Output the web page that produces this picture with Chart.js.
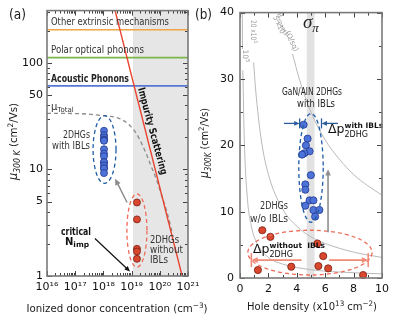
<!DOCTYPE html>
<html lang="en">
<head>
<meta charset="UTF-8" />
<title>Hole mobility vs donor concentration and hole density</title>
<script src="https://cdn.jsdelivr.net/npm/chart.js"></script>
<style>
  body { margin: 0; background: #fff; width: 394px; height: 318px; position: relative; overflow: hidden; }
  canvas { position: absolute; top: 0; }
  #panelA { left: 0; }
  #panelB { left: 193px; }
</style>
</head>
<body>
<canvas id="panelA" width="215" height="318"></canvas>
<canvas id="panelB" width="201" height="318"></canvas>
<script>
// ---------- panel (a): mobility vs ionized donor concentration ----------
const aXTicks = [1e16, 1e17, 1e18, 1e19, 1e20, 1e21];
const aYTicks = [1, 5, 10, 50, 100];
const mechLevels = [205, 112, 61];          // other extrinsic, polar optical, acoustic
const mechColors = ['#f2a444', '#7db54a', '#5677d3'];
const impurityN = [2.6e18, 6.2e20];
const impurityMu = [310, 1];
const totalN = [1e16, 1e17, 7.6e17, 3.9e18, 8.7e18, 1.5e19, 2.3e19, 3.5e19, 5.1e19, 7.8e19, 1.17e20, 1.74e20, 2.3e20, 2.7e20];
const totalMu = [33.6, 33.5, 32.2, 29.9, 25.9, 21.6, 17.4, 13.5, 10.5, 7.9, 5.7, 4.1, 3.1, 2.6];
const donorWithIBL = 1.05e18;
const donorWithoutIBL = 1.55e19;
const muWithoutA = [4.9, 3.4, 1.8, 1.7, 1.45];
const aBand = [1.12e19, 1e21];

// ---------- panel (b): mobility vs hole density ----------
const bXTicks = [0, 2, 4, 6, 8, 10];
const bYTicks = [0, 10, 20, 30, 40];
const holeWith = [4.48, 4.76, 4.64, 4.90, 4.53, 4.37, 4.99, 4.60, 4.60, 4.90, 5.17, 4.60, 5.17, 5.59, 5.29];
const muWith = [23.1, 21.0, 20.0, 19.1, 18.8, 18.6, 15.5, 14.1, 13.3, 11.7, 11.7, 10.9, 10.25, 10.25, 9.25];
const holeWithout = [1.57, 2.14, 5.45, 5.86, 1.26, 3.61, 5.52, 6.21, 8.67];
const muWithout = [7.2, 6.2, 5.2, 3.3, 1.2, 1.7, 1.8, 1.45, 0.45];
// iso sheet-resistance lines (null = gap under the label)
const iso1e5P = [0.16, 0.18, 0.19, 0.2, 0.3, 0.5, 0.8, 1.2, 2, 3, 5, 7, 10];
const iso1e5Mu = [40, 34.5, null, 31.3, 21, 12.5, 7.8, 5.2, 3.1, 2.1, 1.25, 0.9, 0.62];
const iso2e4P = [0.96, 1.1, 1.5, 2, 3, 4, 5, 6, 8, 10];
const iso2e4Mu = [32.5, 28.4, 20.8, 15.6, 10.4, 7.8, 6.2, 5.2, 3.9, 3.1];
const iso5e3P = [3.7, 4.2, 5, 6, 7, 8, 9, 10];
const iso5e3Mu = [33.8, 29.8, 25, 20.8, 17.9, 15.6, 13.9, 12.5];
const bBand = [4.7, 5.25];

const FONT = '"DejaVu Sans", sans-serif';
const f = (size, weight = 'normal', style = 'normal', fam = FONT) => `${style} ${weight} ${size}px ${fam}`;
const BLUE = '#4d72d8', BLUE_EDGE = '#22388f', RED = '#d9472f', RED_EDGE = '#7a1e10';

function sup(n) {
  const m = { '0': '⁰', '1': '¹', '2': '²', '3': '³', '4': '⁴', '5': '⁵', '6': '⁶', '7': '⁷', '8': '⁸', '9': '⁹', '-': '⁻' };
  return String(n).split('').map(c => m[c]).join('');
}

// draw a run of text pieces (for sub/superscripts), optionally rotated and squeezed to a width
function runs(ctx, parts, x, y, o = {}) {
  ctx.save();
  ctx.translate(x, y);
  if (o.rot) ctx.rotate(o.rot * Math.PI / 180);
  ctx.textBaseline = 'alphabetic';
  ctx.textAlign = 'left';
  let w = 0;
  for (const p of parts) { ctx.font = p.font; if (!p.stay) w += ctx.measureText(p.t).width; }
  if (o.width) ctx.scale(o.width / w, 1);
  let cx = o.align === 'center' ? -w / 2 : o.align === 'right' ? -w : 0;
  for (const p of parts) {
    ctx.font = p.font;
    ctx.fillStyle = p.color || o.color || '#1a1a1a';
    ctx.fillText(p.t, cx, (p.dy || 0) + (o.vshift || 0));
    if (!p.stay) cx += ctx.measureText(p.t).width;
  }
  ctx.restore();
}
const T = (t, font, dy = 0, extra = {}) => Object.assign({ t, font, dy }, extra);

function ellipse(chart, xr, yr, color) {
  const { ctx, scales: { x, y } } = chart;
  const x0 = x.getPixelForValue(xr[0]), x1 = x.getPixelForValue(xr[1]);
  const y0 = y.getPixelForValue(yr[0]), y1 = y.getPixelForValue(yr[1]);
  ctx.save();
  ctx.strokeStyle = color; ctx.lineWidth = 1.3; ctx.setLineDash([4, 3]);
  ctx.beginPath();
  ctx.ellipse((x0 + x1) / 2, (y0 + y1) / 2, Math.abs(x1 - x0) / 2, Math.abs(y1 - y0) / 2, 0, 0, Math.PI * 2);
  ctx.stroke();
  ctx.restore();
}

function arrow(chart, from, to, color, lw = 1.3, head = 6, bar = 0) {
  const { ctx, scales: { x, y } } = chart;
  const x0 = x.getPixelForValue(from[0]), y0 = y.getPixelForValue(from[1]);
  const x1 = x.getPixelForValue(to[0]), y1 = y.getPixelForValue(to[1]);
  const ang = Math.atan2(y1 - y0, x1 - x0);
  ctx.save();
  ctx.strokeStyle = ctx.fillStyle = color; ctx.lineWidth = lw;
  ctx.beginPath();
  ctx.moveTo(x0, y0);
  ctx.lineTo(x1 - Math.cos(ang) * head * 0.8, y1 - Math.sin(ang) * head * 0.8);
  ctx.stroke();
  ctx.beginPath();
  ctx.moveTo(x1, y1);
  ctx.lineTo(x1 - head * Math.cos(ang - 0.42), y1 - head * Math.sin(ang - 0.42));
  ctx.lineTo(x1 - head * Math.cos(ang + 0.42), y1 - head * Math.sin(ang + 0.42));
  ctx.closePath(); ctx.fill();
  if (bar) {
    ctx.beginPath();
    ctx.moveTo(x1 + Math.sin(ang) * bar, y1 - Math.cos(ang) * bar);
    ctx.lineTo(x1 - Math.sin(ang) * bar, y1 + Math.cos(ang) * bar);
    ctx.stroke();
  }
  ctx.restore();
}

// inward ticks plus the grey frame
function frame(chart, xt, yt) {
  const { ctx, chartArea: a, scales: { x, y } } = chart;
  ctx.save();
  ctx.strokeStyle = '#444'; ctx.lineWidth = 1;
  ctx.beginPath();
  for (const [v, maj] of xt) {
    const px = Math.round(x.getPixelForValue(v)) + 0.5, l = maj ? 5 : 3;
    ctx.moveTo(px, a.bottom); ctx.lineTo(px, a.bottom - l);
    ctx.moveTo(px, a.top); ctx.lineTo(px, a.top + l);
  }
  for (const [v, maj] of yt) {
    const py = Math.round(y.getPixelForValue(v)) + 0.5, l = maj ? 5 : 3;
    ctx.moveTo(a.left, py); ctx.lineTo(a.left + l, py);
    ctx.moveTo(a.right, py); ctx.lineTo(a.right - l, py);
  }
  ctx.stroke();
  ctx.strokeStyle = '#7a7a7a'; ctx.lineWidth = 1.6;
  ctx.strokeRect(a.left, a.top, a.right - a.left, a.bottom - a.top);
  ctx.restore();
}

function logTicks(lo, hi, labelled) {
  const out = [];
  for (let e = Math.floor(Math.log10(lo)); e <= Math.ceil(Math.log10(hi)); e++)
    for (let k = 1; k <= 9; k++) {
      const v = k * Math.pow(10, e);
      if (v >= lo * 0.999 && v <= hi * 1.001) out.push([v, k === 1 || labelled.includes(v)]);
    }
  return out;
}
function linTicks(lo, hi, step, major) {
  const out = [];
  for (let v = lo; v <= hi + 1e-9; v += step) out.push([v, Math.abs(v / major - Math.round(v / major)) < 1e-6]);
  return out;
}

const baseOptions = (xScale, yScale, pad) => ({
  responsive: false, animation: false, devicePixelRatio: 1, events: [],
  layout: { padding: pad },
  plugins: { legend: { display: false }, tooltip: { enabled: false } },
  scales: { x: xScale, y: yScale }
});
const tickFont = { family: FONT, size: 11 };

// ---------------- chart (a) ----------------
const overlayA = {
  id: 'overlayA',
  beforeDatasetsDraw(chart) {
    const { ctx, chartArea: a, scales: { x } } = chart;
    const x0 = x.getPixelForValue(aBand[0]), x1 = x.getPixelForValue(aBand[1]);
    ctx.save(); ctx.fillStyle = '#e6e6e6';
    ctx.fillRect(x0, a.top, x1 - x0, a.bottom - a.top);
    ctx.restore();
  },
  afterDatasetsDraw(chart) {
    const ctx = chart.ctx;
    ellipse(chart, [4.3e17, 2.8e18], [32, 7.4], '#1f5ca6');
    ellipse(chart, [6.8e18, 3.5e19], [5.9, 1.21], '#ef6a58');
    arrow(chart, [6.9e18, 4.9], [2.6e18, 8.2], '#8a8a8a', 1.4, 7);
    arrow(chart, [5e17, 2.25], [8.8e18, 1.1], '#111', 1.2, 6);

    runs(ctx, [T('(a)', f(13.5))], 9, 18.5, { width: 17 });
    runs(ctx, [T('Other extrinsic mechanisms', f(10.5))], 51, 24.5, { width: 118, color: '#333' });
    runs(ctx, [T('Polar optical phonons', f(10.5))], 51, 53, { width: 93, color: '#333' });
    runs(ctx, [T('Acoustic Phonons', f(10, 'bold'))], 51, 81.5, { width: 78, color: '#222' });
    runs(ctx, [T('μ', f(10)), T('Total', f(7), 2)], 51, 110, { color: '#333' });
    runs(ctx, [T('2DHGs', f(10))], 90, 138, { align: 'right', width: 27, color: '#333' });
    runs(ctx, [T('with IBLs', f(10))], 90, 149, { align: 'right', width: 38, color: '#333' });
    runs(ctx, [T('Impurity Scattering', f(10, 'bold'))], 153, 131, { align: 'center', rot: 75, width: 90, vshift: 3.6, color: '#111' });
    runs(ctx, [T('critical', f(10, 'bold'))], 76, 235, { align: 'center', width: 30, color: '#111' });
    runs(ctx, [T('N', f(10, 'bold')), T('imp', f(7.5, 'bold'), 2)], 77, 245, { align: 'center', color: '#111' });
    runs(ctx, [T('2DHGs', f(10))], 150, 242.5, { width: 29, color: '#333' });
    runs(ctx, [T('without', f(10))], 150, 253, { width: 33, color: '#333' });
    runs(ctx, [T('IBLs', f(10))], 150, 263, { width: 18, color: '#333' });

    runs(ctx, [T('μ', f(11.5, 'normal', 'italic')), T('300 K', f(8, 'normal', 'italic'), 3),
               T(' (cm', f(10.5)), T('2', f(7.5), -4), T('/Vs)', f(10.5))],
         16.5, 141.5, { align: 'center', rot: -90, width: 77 });
    runs(ctx, [T('Ionized donor concentration (cm', f(10.5)), T('−3', f(7.5), -4), T(')', f(10.5))],
         117, 311.5, { align: 'center', width: 181 });

    frame(chart, logTicks(1e16, 1e21, []), logTicks(1, 310, [5, 50]));
  }
};

new Chart(document.getElementById('panelA'), {
  type: 'scatter',
  data: {
    datasets: [
      { data: muWithoutA.map(v => ({ x: donorWithoutIBL, y: v })), pointRadius: 3.5, backgroundColor: RED, borderColor: RED_EDGE, borderWidth: 0.8, clip: false },
      { data: muWith.map(v => ({ x: donorWithIBL, y: v })), pointRadius: 3.5, backgroundColor: BLUE, borderColor: BLUE_EDGE, borderWidth: 0.8, clip: false },
      { data: impurityN.map((n, i) => ({ x: n, y: impurityMu[i] })), showLine: true, borderColor: '#e8432e', borderWidth: 1.4, pointRadius: 0 },
      { data: totalN.map((n, i) => ({ x: n, y: totalMu[i] })), showLine: true, borderColor: '#8c8c8c', borderDash: [4, 3], borderWidth: 1.3, pointRadius: 0, cubicInterpolationMode: 'monotone' },
      ...mechLevels.map((lv, i) => ({
        data: [{ x: aXTicks[0], y: lv }, { x: aXTicks[aXTicks.length - 1], y: lv }],
        showLine: true, borderColor: mechColors[i], borderWidth: 1.7, pointRadius: 0
      }))
    ]
  },
  options: baseOptions(
    {
      type: 'logarithmic', min: aXTicks[0], max: aXTicks[aXTicks.length - 1],
      afterFit: s => { s.height = 42; },
      afterBuildTicks: s => { s.ticks = aXTicks.map(v => ({ value: v })); },
      grid: { display: false, drawTicks: false }, border: { display: false },
      ticks: { autoSkip: false, maxRotation: 0, padding: 5, color: '#111', font: tickFont,
               callback: v => '10' + sup(Math.round(Math.log10(v))) }
    },
    {
      type: 'logarithmic', min: 1, max: 310,
      afterFit: s => { s.width = 47; },
      afterBuildTicks: s => { s.ticks = aYTicks.map(v => ({ value: v })); },
      grid: { display: false, drawTicks: false }, border: { display: false },
      ticks: { autoSkip: false, padding: 4, color: '#111', font: tickFont, callback: v => String(v) }
    },
    { left: 0, right: 27, top: 10, bottom: 0 }
  ),
  plugins: [overlayA]
});

// ---------------- chart (b) ----------------
const overlayB = {
  id: 'overlayB',
  beforeDatasetsDraw(chart) {
    const { ctx, chartArea: a, scales: { x } } = chart;
    const x0 = x.getPixelForValue(bBand[0]), x1 = x.getPixelForValue(bBand[1]);
    ctx.save(); ctx.fillStyle = '#e2e2e2';
    ctx.fillRect(x0, a.top, x1 - x0, a.bottom - a.top);
    ctx.restore();
  },
  afterDatasetsDraw(chart) {
    const ctx = chart.ctx;
    ellipse(chart, [4.14, 5.86], [24.8, 8.4], '#1f5ca6');
    ellipse(chart, [0.55, 9.3], [7.2, 0.45], '#ef6a58');
    arrow(chart, [6.2, 6.9], [6.2, 16.4], '#8f8f8f', 1.6, 7);
    arrow(chart, [3.1, 23.3], [4.2, 23.3], '#2b5c9c', 1.3, 6, 5);
    arrow(chart, [6.9, 23.3], [5.74, 23.3], '#2b5c9c', 1.3, 6, 5);
    arrow(chart, [4.34, 2.7], [0.8, 2.7], '#f28a78', 1.6, 7, 7);
    arrow(chart, [6.28, 2.7], [9.03, 2.7], '#f28a78', 1.6, 7, 7);

    runs(ctx, [T('(b)', f(13.5))], 2, 18.5, { width: 17 });
    runs(ctx, [T('σ', f(19, 'normal', 'italic', '"Liberation Serif", serif')),
               T('π', f(13, 'normal', 'italic', '"Liberation Serif", serif'), 4)], 110, 28, { color: '#222' });
    runs(ctx, [T('GaN/AlN 2DHGs', f(10))], 119, 95, { align: 'center', width: 60, color: '#222' });
    runs(ctx, [T('with IBLs', f(10))], 123, 107, { align: 'center', width: 38, color: '#222' });
    runs(ctx, [T('2DHGs', f(10))], 95, 209, { align: 'right', width: 28, color: '#333' });
    runs(ctx, [T('w/o IBLs', f(10))], 95, 221.5, { align: 'right', width: 38, color: '#333' });
    runs(ctx, [T('Δp', f(12.5)), T('with IBLs', f(7.5, 'bold'), -5, { stay: true }), T('2DHG', f(8), 4)], 135, 133, { color: '#111' });
    runs(ctx, [T('Δp', f(12.5)), T('without  IBLs', f(7.5, 'bold'), -5, { stay: true }), T('2DHG', f(8), 4)], 60, 253, { color: '#111' });

    const iso = '#9a9a9a';
    runs(ctx, [T('10', f(7.5)), T('5', f(5.5), -3)], 52.5, 56, { align: 'center', rot: 90, vshift: 2.7, color: iso });
    runs(ctx, [T('20 x10', f(7.5)), T('3', f(5.5), -3)], 60.5, 31.5, { align: 'center', rot: 90, vshift: 2.7, width: 23, color: iso });
    runs(ctx, [T('R', f(7.5)), T('sheet', f(5.5), 2), T('(Ω/sq)', f(7.5))], 95, 32, { align: 'center', rot: 65, vshift: 2.7, width: 42, color: iso });
    runs(ctx, [T('5 x10', f(7.5)), T('3', f(5.5), -3)], 87, 26, { align: 'center', rot: 65, vshift: 2.7, width: 22, color: iso });

    runs(ctx, [T('μ', f(11.5, 'normal', 'italic')), T('300K', f(8, 'normal', 'italic'), 3),
               T(' (cm', f(10.5)), T('2', f(7.5), -4), T('/Vs)', f(10.5))],
         14.5, 143, { align: 'center', rot: -90, width: 70 });
    runs(ctx, [T('Hole density (x10', f(10.5)), T('13', f(7.5), -4), T(' cm', f(10.5)), T('−2', f(7.5), -4), T(')', f(10.5))],
         119, 310, { align: 'center', width: 130 });

    frame(chart, linTicks(0, 10, 1, 2), linTicks(0, 40, 5, 10));
  }
};

const isoLine = (ps, ms) => ({
  data: ps.map((p, i) => ({ x: p, y: ms[i] })), showLine: true, spanGaps: false,
  borderColor: '#b9b9b9', borderWidth: 1, pointRadius: 0, cubicInterpolationMode: 'monotone'
});

new Chart(document.getElementById('panelB'), {
  type: 'scatter',
  data: {
    datasets: [
      { data: holeWithout.map((p, i) => ({ x: p, y: muWithout[i] })), pointRadius: 3.6, backgroundColor: RED, borderColor: RED_EDGE, borderWidth: 0.8, clip: false },
      { data: holeWith.map((p, i) => ({ x: p, y: muWith[i] })), pointRadius: 3.6, backgroundColor: BLUE, borderColor: BLUE_EDGE, borderWidth: 0.8, clip: false },
      isoLine(iso1e5P, iso1e5Mu),
      isoLine(iso2e4P, iso2e4Mu),
      isoLine(iso5e3P, iso5e3Mu)
    ]
  },
  options: baseOptions(
    {
      type: 'linear', min: bXTicks[0], max: bXTicks[bXTicks.length - 1],
      afterFit: s => { s.height = 40; },
      afterBuildTicks: s => { s.ticks = bXTicks.map(v => ({ value: v })); },
      grid: { display: false, drawTicks: false }, border: { display: false },
      ticks: { autoSkip: false, maxRotation: 0, padding: 5, color: '#111', font: tickFont }
    },
    {
      type: 'linear', min: bYTicks[0], max: bYTicks[bYTicks.length - 1],
      afterFit: s => { s.width = 47; },
      afterBuildTicks: s => { s.ticks = bYTicks.map(v => ({ value: v })); },
      grid: { display: false, drawTicks: false }, border: { display: false },
      ticks: { autoSkip: false, padding: 6, color: '#111', font: tickFont }
    },
    { left: 0, right: 9, top: 10, bottom: 0 }
  ),
  plugins: [overlayB]
});
</script>
</body>
</html>
